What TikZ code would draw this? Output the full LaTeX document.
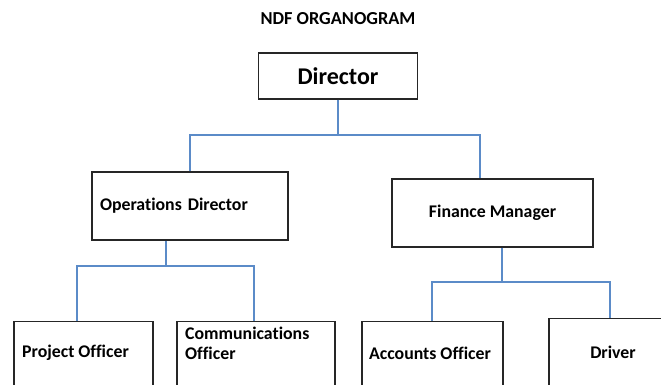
\documentclass[tikz,border=0pt]{standalone}
\usepackage{fontspec}
\setmainfont[Ligatures=NoCommon]{Carlito}
\definecolor{connblue}{HTML}{5B8BC8}
\definecolor{boxline}{HTML}{262626}
\begin{document}
\begin{tikzpicture}[x=1pt,y=-1pt,
  box/.style={draw=boxline, line width=1.4pt, rectangle, inner sep=0pt},
  conn/.style={draw=connblue, line width=1.5pt},
  lbl/.style={font=\bfseries\fontsize{17.8}{20}\selectfont},
  ttl/.style={font=\bfseries\fontsize{18.3}{21}\selectfont}]
\useasboundingbox (0,0) rectangle (661,384);
\clip (0,0) rectangle (661,384);

\node[ttl] (title) at (338,19) {NDF ORGANOGRAM};

\node[box, minimum width=159pt, minimum height=46pt,
      font=\bfseries\fontsize{24}{27}\selectfont] (dir) at (338,76) {Director};

\node[box, lbl, text width=180pt, inner xsep=8pt, align=left, minimum height=68pt] (ops) at (190,206) {Operations Director};
\node[box, lbl, minimum width=201pt, minimum height=68pt] (fin) at (492.5,213) {Finance Manager};

\node[box, minimum width=139pt, minimum height=100pt, anchor=north] (proj) at (83.5,321) {};
\node[lbl, anchor=west, inner sep=0pt] (projtext) at (22,353) {Project Officer};
\node[box, minimum width=158pt, minimum height=100pt, anchor=north] (comm) at (256,321) {};
\node[lbl, anchor=west, align=left, inner sep=0pt] (commtext) at (185,343) {Communications\\Officer};
\node[box, minimum width=141pt, minimum height=100pt, anchor=north] (acc) at (432.5,321) {};
\node[lbl, inner sep=0pt] (acctext) at (430,353) {Accounts Officer};
\node[box, minimum width=131pt, minimum height=100pt, anchor=north] (drv) at (614.5,318) {};
\node[lbl, inner sep=0pt] (drvtext) at (613,352) {Driver};

\coordinate (bus1) at (338,135);
\coordinate (finx) at (480,0);
\coordinate (bus2) at (166,266);
\coordinate (pjx) at (77,0);
\coordinate (cmx) at (254,0);
\coordinate (bus3) at (502,282);
\coordinate (acx) at (432,0);
\coordinate (drx) at (610,0);

\draw[conn] (dir.south) -- (bus1);
\draw[conn] (ops.north) |- (bus1) -| (fin.north -| finx);

\draw[conn] (ops.south -| bus2) -- (bus2);
\draw[conn] (proj.north -| pjx) |- (bus2) -| (comm.north -| cmx);

\draw[conn] (fin.south -| bus3) -- (bus3);
\draw[conn] (acc.north -| acx) |- (bus3) -| (drv.north -| drx);
\end{tikzpicture}
\end{document}
